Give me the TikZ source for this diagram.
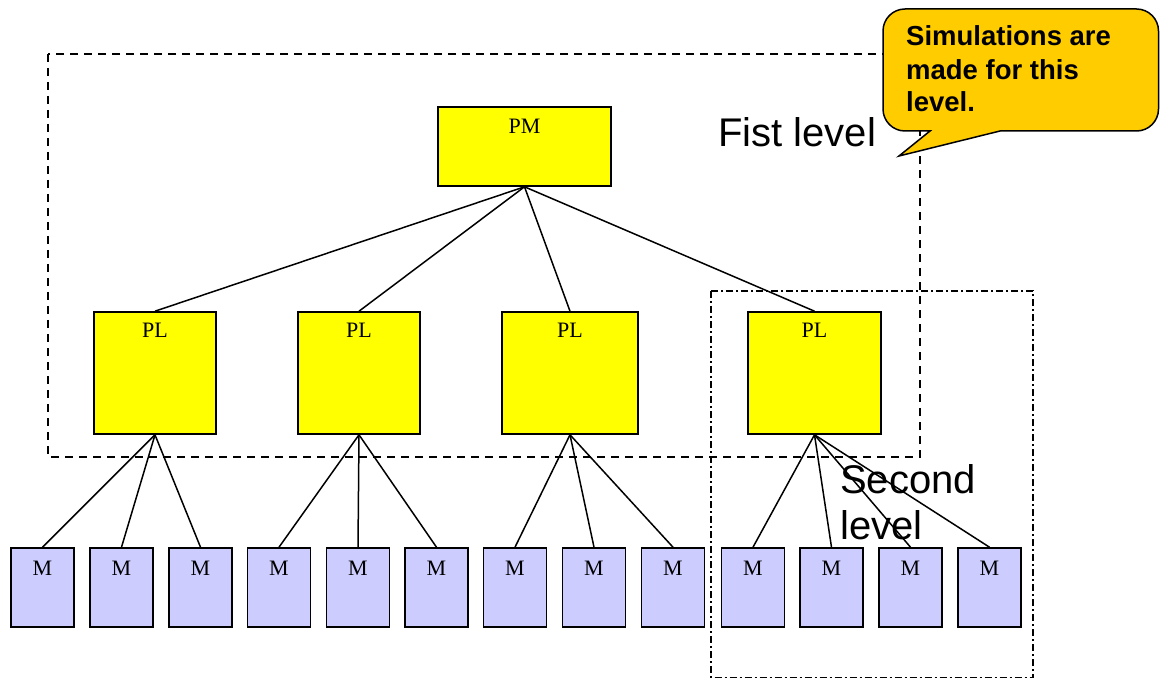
\documentclass[tikz,border=0pt]{standalone}
\usepackage{fontspec}
\setmainfont{Liberation Serif}
\newfontfamily\arialfont{Liberation Sans}
\definecolor{plyellow}{HTML}{FFFF00}
\definecolor{mblue}{HTML}{CCCCFF}
\definecolor{callcol}{HTML}{FFCC00}
\begin{document}
\begin{tikzpicture}[x=1pt,y=-1pt,
  boxbase/.style={draw=black,line width=1.6pt,inner sep=0pt,rectangle},
  pmbox/.style={boxbase,fill=plyellow,minimum width=173pt,minimum height=79pt},
  plbox/.style={boxbase,fill=plyellow,minimum width=#1,minimum height=122pt},
  mbox/.style={boxbase,fill=mblue,minimum width=63pt,minimum height=79pt},
  boxlab/.style={font=\fontsize{22}{26}\selectfont,anchor=base,inner sep=0pt},
  conn/.style={draw=black,line width=1.5pt},
  dashrect/.style={draw=black,line width=1.7pt,dash pattern=on 8pt off 6pt},
  dashdotrect/.style={draw=black,line width=1.4pt,dash pattern=on 7pt off 3pt on 2pt off 3pt},
  bigtext/.style={font=\arialfont\fontsize{40}{46}\selectfont,anchor=base west,inner sep=0pt},
  calltext/.style={font=\arialfont\bfseries\fontsize{27.5}{33}\selectfont,anchor=base west,inner sep=0pt},
]
\useasboundingbox (0,0) rectangle (1160,679);

% level frames
\draw[dashrect] (48,54) rectangle (920,457);
\draw[dashdotrect] (711,291) rectangle (1033,677.5);

% boxes
\node[pmbox,label={[boxlab,yshift=-27pt]north:PM}] (pm) at (524.5,146.5) {};
\node[plbox=122pt,label={[boxlab,yshift=-26pt]north:PL}] (pl1) at (155,373) {};
\node[plbox=122pt,label={[boxlab,yshift=-26pt]north:PL}] (pl2) at (359,373) {};
\node[plbox=136pt,label={[boxlab,yshift=-26pt]north:PL}] (pl3) at (570,373) {};
\node[plbox=133pt,label={[boxlab,yshift=-26pt]north:PL}] (pl4) at (814.5,373) {};

\foreach \i/\x in {1/42.5,2/121.5,3/200.5,4/279,5/358,6/436.5,7/515,8/594,9/673,10/753,11/831.5,12/910.5,13/989.5}{
  \node[mbox,label={[boxlab,yshift=-28pt]north:M}] (m\i) at (\x,587.5) {};
}

% connectors
\foreach \j in {1,2,3,4}{ \draw[conn] (pm.south) -- (pl\j.north); }
\foreach \j in {1,2,3}{ \draw[conn] (pl1.south) -- (m\j.north); }
\foreach \j in {4,5,6}{ \draw[conn] (pl2.south) -- (m\j.north); }
\foreach \j in {7,8,9}{ \draw[conn] (pl3.south) -- (m\j.north); }
\foreach \j in {10,11,12,13}{ \draw[conn] (pl4.south) -- (m\j.north); }

% level labels
\node[bigtext] (fist) at (718,147) {Fist level};
\node[bigtext] (second1) at (840,493) {Second};
\node[bigtext] (second2) at (840,539) {level};

% callout
\draw[fill=callcol,draw=black,line width=1.5pt]
  (899,156) -- (1000,131)
  {[rounded corners=22pt] -- (1158.5,131) -- (1158.5,9) -- (883,9) -- (883,131)} -- (930,131) -- cycle;
\node[calltext] (c1) at (906,46) {Simulations are};
\node[calltext] (c2) at (906,80) {made for this};
\node[calltext] (c3) at (906,112) {level.};
\end{tikzpicture}
\end{document}
